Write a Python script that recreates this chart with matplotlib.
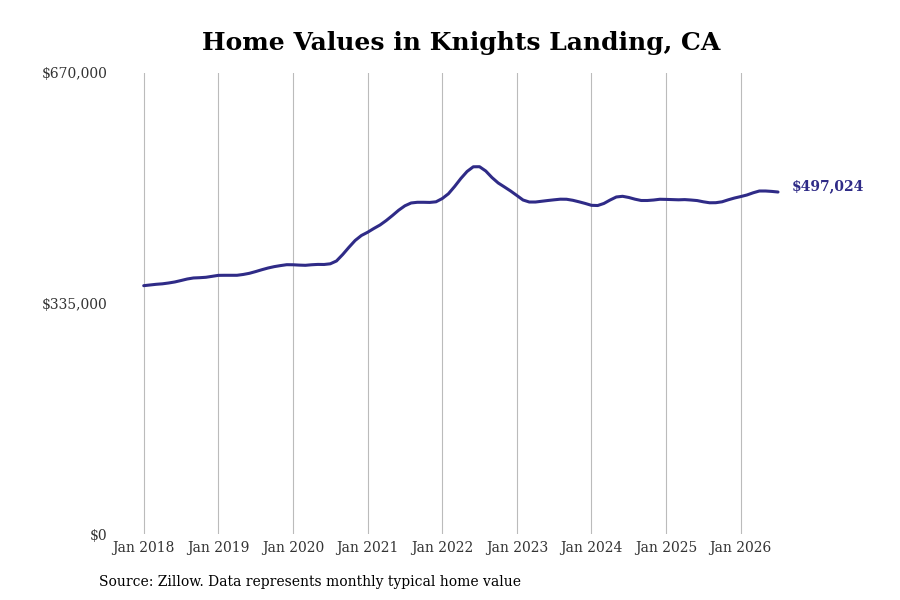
import numpy as np
import matplotlib
matplotlib.use("Agg")
import matplotlib.pyplot as plt

# monthly typical home value, Jan 2018 .. Jul 2026 (in thousands)
values_k = [
    360.9, 361.9, 362.9, 363.6, 364.8, 366.3, 368.4, 370.6, 372.1, 372.5, 373.1, 374.5,
    375.9, 376.0, 376.0, 376.0, 377.2, 378.9, 381.4, 384.1, 386.6, 388.6, 390.1, 391.4,
    391.3, 390.8, 390.5, 391.3, 391.8, 391.7, 392.7, 396.8, 406.2, 416.7, 426.6, 433.8,
    438.5, 444.0, 449.1, 455.6, 462.9, 470.6, 477.0, 481.1, 482.1, 482.1, 481.9, 482.8,
    487.5, 494.5, 505.1, 516.7, 526.9, 533.7, 533.8, 527.6, 518.1, 510.2, 504.4, 498.5,
    492.0, 485.4, 482.5, 482.5, 483.6, 484.7, 485.7, 486.6, 486.5, 485.0, 482.8, 480.4,
    477.7, 477.4, 480.4, 485.4, 489.8, 490.8, 489.1, 486.6, 484.7, 484.7, 485.4, 486.5,
    486.3, 486.0, 485.7, 486.0, 485.4, 484.6, 482.8, 481.4, 481.5, 482.8, 485.7, 488.3,
    490.4, 492.7, 495.9, 498.5, 498.5, 497.9, 497.024,
]
values = np.array(values_k) * 1000
months = np.arange(len(values))

tick_pos = np.arange(0, 97, 12)
tick_labels = ["Jan %d" % y for y in range(2018, 2027)]
y_ticks = [0, 335000, 670000]
y_labels = ["$0", "$335,000", "$670,000"]

line_color = "#2f2b87"

plt.rcParams["font.family"] = ["DejaVu Serif"]

fig = plt.figure(figsize=(9, 6), dpi=100)
ax = fig.add_axes([112 / 900, 66 / 600, 768 / 900, 461 / 600])

ax.plot(months, values, color=line_color, linewidth=2.2, solid_capstyle="round")

ax.set_xlim(-5.1, 118.4)
ax.set_ylim(0, 670000)
ax.set_xticks(tick_pos)
ax.set_xticklabels(tick_labels)
ax.set_yticks(y_ticks)
ax.set_yticklabels(y_labels)
ax.tick_params(axis="both", length=0, labelsize=10, colors="#333333")
ax.tick_params(axis="x", pad=5)
ax.tick_params(axis="y", pad=3)
ax.grid(axis="x", color="#bbbbbb", linewidth=0.8)
ax.grid(axis="y", visible=False)
for s in ax.spines.values():
    s.set_visible(False)

last = values[-1]
ax.annotate("${:,.0f}".format(last), xy=(months[-1], last), xytext=(10, 4),
            textcoords="offset points", va="center", ha="left",
            fontsize=10, fontweight="bold", color=line_color)

fig.text(461 / 900, 1 - 43 / 600, "Home Values in Knights Landing, CA",
         ha="center", va="center", fontsize=18, fontweight="bold", color="black")
fig.text(99 / 900, 1 - 582 / 600, "Source: Zillow. Data represents monthly typical home value",
         ha="left", va="center", fontsize=10, color="black")

fig.savefig("out.png", dpi=100)
